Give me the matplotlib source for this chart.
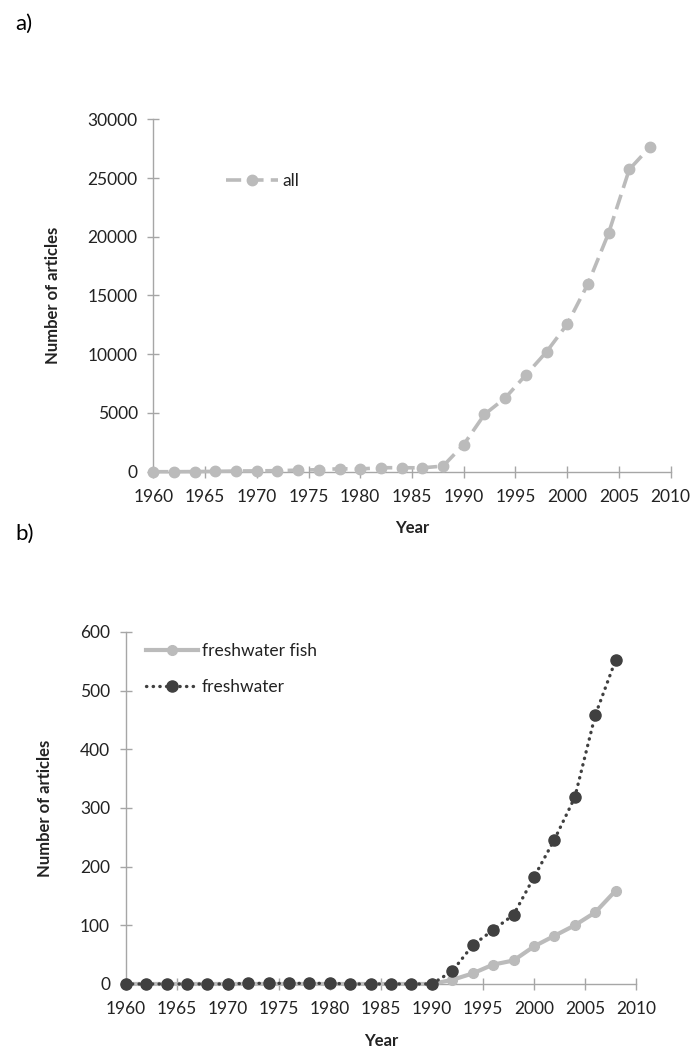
import matplotlib
matplotlib.use('Agg')
import matplotlib.pyplot as plt

plt.rcParams['font.family'] = ['Lato', 'DejaVu Sans']

# data
years = [1960, 1962, 1964, 1966, 1968, 1970, 1972, 1974, 1976, 1978, 1980, 1982, 1984,
         1986, 1988, 1990, 1992, 1994, 1996, 1998, 2000, 2002, 2004, 2006, 2008]
all_articles = [0, 0, 10, 30, 60, 70, 90, 130, 170, 250, 230, 340, 340,
                330, 480, 2310, 4870, 6270, 8230, 10200, 12560, 15980, 20310, 25730, 27640]
freshwater_fish = [0, 0, 0, 0, 0, 0, 0, 0, 0, 0, 0, 0, 0,
                   0, 0, 0, 7, 18, 33, 40, 64, 82, 100, 122, 159]
freshwater = [0, 0, 0, 0, 0, 0, 1, 1, 1, 1, 1, 0, 0,
              0, 0, 0, 22, 66, 92, 118, 182, 246, 318, 458, 552]

xticks = [1960, 1965, 1970, 1975, 1980, 1985, 1990, 1995, 2000, 2005, 2010]
yticks_a = [0, 5000, 10000, 15000, 20000, 25000, 30000]
yticks_b = [0, 100, 200, 300, 400, 500, 600]

light = '#bbbbbb'
dark = '#404040'
axis_col = '#a6a6a6'
text_col = '#222222'
fs = 12.5
lab_fs = 12

fig = plt.figure(figsize=(6.93, 10.48), dpi=100)


def style_axes(ax, yticks, ymax):
    ax.set_xlim(1960, 2010)
    ax.set_ylim(0, ymax)
    ax.set_xticks(xticks)
    ax.set_yticks(yticks)
    for s in ['top', 'right']:
        ax.spines[s].set_visible(False)
    for s in ['left', 'bottom']:
        ax.spines[s].set_color(axis_col)
        ax.spines[s].set_linewidth(1.0)
    ax.tick_params(axis='both', direction='inout', length=8.5, width=1.0,
                   color=axis_col, labelcolor=text_col, labelsize=fs)
    ax.tick_params(axis='x', pad=8)
    ax.tick_params(axis='y', pad=7)


# a) all articles
ax1 = fig.add_axes([0.2212, 0.5499, 0.7466, 0.3363])
style_axes(ax1, yticks_a, 30000)
ax1.plot(years, all_articles, color=light, lw=2.6, linestyle=(0, (4.2, 2.0)),
         marker='o', markersize=7.5, label='all', clip_on=False, zorder=3)
ax1.legend(loc='center left', bbox_to_anchor=(0.1405, 0.825), frameon=False,
           fontsize=fs, handlelength=3.0, handletextpad=0.25, borderpad=0,
           borderaxespad=0, labelcolor=text_col)
ax1.set_ylabel('Number of articles', fontsize=lab_fs, fontweight='bold', color=text_col)
ax1.yaxis.set_label_coords(-0.178, 0.5)
ax1.set_xlabel('Year', fontsize=lab_fs, fontweight='bold', color=text_col, va='center')
ax1.xaxis.set_label_coords(0.5, -0.16)

# b) freshwater
ax2 = fig.add_axes([0.1814, 0.0611, 0.7364, 0.3359])
style_axes(ax2, yticks_b, 600)
ax2.plot(years, freshwater_fish, color=light, lw=3.0, linestyle='-',
         marker='o', markersize=7, label='freshwater fish', clip_on=False, zorder=3)
ax2.plot(years, freshwater, color=dark, lw=2.4, linestyle=(0, (0.1, 1.9)),
         dash_capstyle='round', marker='o', markersize=8,
         label='freshwater', clip_on=False, zorder=4)
ax2.legend(loc='center left', bbox_to_anchor=(0.039, 0.895), frameon=False,
           fontsize=fs, handlelength=3.0, handletextpad=0.25, borderpad=0,
           borderaxespad=0, labelspacing=1.15, labelcolor=text_col)
ax2.set_ylabel('Number of articles', fontsize=lab_fs, fontweight='bold', color=text_col)
ax2.yaxis.set_label_coords(-0.142, 0.5)
ax2.set_xlabel('Year', fontsize=lab_fs, fontweight='bold', color=text_col, va='center')
ax2.xaxis.set_label_coords(0.5, -0.162)

fig.text(15 / 693, 1 - 24 / 1048, 'a)', fontsize=16, color='black', va='center')
fig.text(15 / 693, 1 - 534 / 1048, 'b)', fontsize=16, color='black', va='center')

fig.savefig('out.png', dpi=100)
